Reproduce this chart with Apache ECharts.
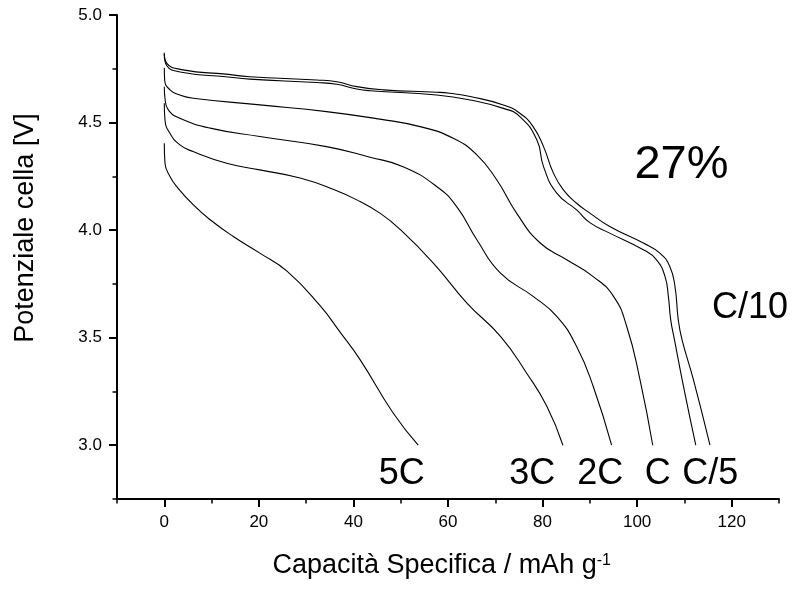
<!DOCTYPE html>
<html>
<head>
<meta charset="utf-8">
<script src="https://cdn.jsdelivr.net/npm/echarts@6/dist/echarts.min.js"></script>
<style>
  html, body { margin: 0; padding: 0; background: #fff; }
  #chart { width: 798px; height: 592px; }
</style>
</head>
<body>
<div id="chart"></div>
<script>
// capacità (mAh/g) e potenziale (V), una coppia di array per velocità
const capC10 = [0, 0.5, 4, 13, 18.1, 32.2, 36.5, 40.7, 46.3, 57.6, 60.4, 64.7, 71.7, 75.2, 78.0, 80.2, 82.3, 84.4, 87.2, 90.0, 94.2, 101.3, 104.8, 106.9, 108.0, 108.7, 109.5, 111.9, 115.4];
const voltC10 = [4.825, 4.776, 4.745, 4.725, 4.713, 4.698, 4.690, 4.667, 4.652, 4.641, 4.636, 4.621, 4.582, 4.543, 4.481, 4.388, 4.265, 4.187, 4.125, 4.079, 4.017, 3.940, 3.893, 3.831, 3.738, 3.583, 3.490, 3.305, 3.0];

const capC5 = [0, 0.5, 4, 13, 18.1, 32.2, 36.5, 40.7, 43.5, 57.6, 64.7, 71.7, 75.2, 78.8, 80.2, 83.0, 87.2, 90.0, 94.2, 101.3, 104.1, 105.9, 106.6, 107.1, 107.9, 109.8, 112.4];
const voltC5 = [4.82, 4.765, 4.733, 4.713, 4.702, 4.686, 4.678, 4.656, 4.648, 4.628, 4.605, 4.566, 4.528, 4.419, 4.295, 4.172, 4.094, 4.035, 3.986, 3.909, 3.862, 3.784, 3.692, 3.583, 3.490, 3.274, 3.0];

const capC1 = [0, 0.08, 1.2, 3.3, 6.1, 20.2, 34.3, 45.6, 54.1, 61.1, 66.1, 70.3, 74.5, 79.5, 85.1, 90.7, 95.0, 97.8, 100.6, 103.3];
const voltC1 = [4.755, 4.698, 4.652, 4.628, 4.613, 4.582, 4.551, 4.516, 4.481, 4.427, 4.350, 4.234, 4.079, 3.940, 3.862, 3.784, 3.692, 3.552, 3.305, 3.0];

const cap2C = [0, 0.15, 0.85, 3.3, 9.7, 20.2, 34.3, 43.5, 50.5, 57.6, 61.8, 66.1, 71.1, 78.0, 83.0, 87.2, 90.7, 94.6];
const volt2C = [4.667, 4.613, 4.559, 4.52, 4.474, 4.435, 4.388, 4.339, 4.295, 4.203, 4.110, 3.955, 3.80, 3.692, 3.599, 3.459, 3.274, 3.0];

const cap3C = [0, 0.15, 1.2, 3.3, 6.1, 13.2, 20.2, 28.7, 35.7, 41.4, 45.6, 49.8, 56.9, 64.0, 71.1, 76.6, 80.9, 84.3];
const volt3C = [4.59, 4.512, 4.45, 4.396, 4.365, 4.311, 4.28, 4.242, 4.190, 4.133, 4.079, 4.005, 3.847, 3.661, 3.506, 3.336, 3.181, 3.0];

const cap5C = [0, 0.15, 1.2, 2.6, 6.1, 9.7, 14.6, 20.2, 26, 32.9, 37.1, 41.4, 48.4, 53.7];
const volt5C = [4.404, 4.311, 4.249, 4.203, 4.118, 4.048, 3.97, 3.893, 3.808, 3.650, 3.528, 3.398, 3.15, 3.0];

// tacche degli assi
const xMajor = [0, 20, 40, 60, 80, 100, 120];
const xMinor = [-10, 10, 30, 50, 70, 90, 110, 130];
const yMajor = [3.0, 3.5, 4.0, 4.5, 5.0];
const yMinor = [2.75, 3.25, 3.75, 4.25, 4.75];

const rateNames = ['C/10', 'C/5', 'C', '2C', '3C', '5C'];

const FONT = '"Liberation Sans", Arial, sans-serif';

function pairs(xs, ys) {
  return xs.map((x, i) => [x, ys[i]]);
}

const curves = [
  pairs(capC10, voltC10),
  pairs(capC5, voltC5),
  pairs(capC1, voltC1),
  pairs(cap2C, volt2C),
  pairs(cap3C, volt3C),
  pairs(cap5C, volt5C)
];

var myChart = echarts.init(document.getElementById('chart'));

// testi dentro al grafico (posizioni in pixel)
function txt(text, x, y, size) {
  return {
    type: 'text', x: x, y: y, silent: true,
    style: {
      text: text, fill: '#000', font: size + 'px ' + FONT,
      align: 'center', verticalAlign: 'middle',
      textAlign: 'center', textVerticalAlign: 'middle'
    }
  };
}

myChart.setOption({
  animation: false,
  backgroundColor: '#fff',
  grid: { left: 117, right: 19, top: 15, bottom: 93, containLabel: false },
  xAxis: [
    {
      type: 'value', min: -10, max: 130, position: 'bottom',
      axisLine: { onZero: false, lineStyle: { color: '#000', width: 2 } },
      axisTick: { show: true, inside: false, length: 8, customValues: xMajor,
                  lineStyle: { color: '#000', width: 2 } },
      axisLabel: { customValues: xMajor, color: '#000', fontSize: 17, fontFamily: FONT, margin: 15 },
      splitLine: { show: false }
    },
    {
      type: 'value', min: -10, max: 130, position: 'bottom', offset: 0,
      axisLine: { show: false, onZero: false },
      axisTick: { show: true, inside: false, length: 4.5, customValues: xMinor,
                  lineStyle: { color: '#000', width: 1.5 } },
      axisLabel: { show: false },
      splitLine: { show: false }
    }
  ],
  yAxis: [
    {
      type: 'value', min: 2.75, max: 5.0, position: 'left',
      axisLine: { onZero: false, lineStyle: { color: '#000', width: 2 } },
      axisTick: { show: true, inside: false, length: 8, customValues: yMajor,
                  lineStyle: { color: '#000', width: 2 } },
      axisLabel: { customValues: yMajor, color: '#000', fontSize: 17, fontFamily: FONT, margin: 15,
                   formatter: v => v.toFixed(1) },
      splitLine: { show: false }
    },
    {
      type: 'value', min: 2.75, max: 5.0, position: 'left', offset: 0,
      axisLine: { show: false, onZero: false },
      axisTick: { show: true, inside: false, length: 4.5, customValues: yMinor,
                  lineStyle: { color: '#000', width: 1.5 } },
      axisLabel: { show: false },
      splitLine: { show: false }
    }
  ],
  series: curves.map((d, i) => ({
    name: rateNames[i],
    type: 'line',
    data: d,
    xAxisIndex: 0,
    yAxisIndex: 0,
    showSymbol: false,
    symbol: 'none',
    smooth: 0.5,
    lineStyle: { color: '#000', width: 1.1 }
  })),
  graphic: [
    txt('27%', 681.5, 165, 47),
    txt('C/10', 750, 308, 36),
    txt('5C', 401.7, 474.5, 36),
    txt('3C', 532.3, 474.5, 36),
    txt('2C', 600.3, 474.5, 36),
    txt('C', 657.7, 474.5, 36),
    txt('C/5', 710.3, 474.5, 36),
    {
      type: 'text', x: 441.7, y: 566, silent: true,
      style: {
        text: 'Capacità Specifica / mAh g{sup|-1}',
        fill: '#000', font: '27px ' + FONT,
        align: 'center', verticalAlign: 'middle',
        textAlign: 'center', textVerticalAlign: 'middle',
        rich: { sup: { fontSize: 16, fontFamily: FONT, verticalAlign: 'top', fill: '#000', color: '#000' } }
      }
    },
    {
      type: 'text', x: 26, y: 228, rotation: Math.PI / 2, silent: true,
      style: {
        text: 'Potenziale cella [V]', fill: '#000', font: '27px ' + FONT,
        align: 'center', verticalAlign: 'middle',
        textAlign: 'center', textVerticalAlign: 'middle'
      }
    }
  ]
});
</script>
</body>
</html>
